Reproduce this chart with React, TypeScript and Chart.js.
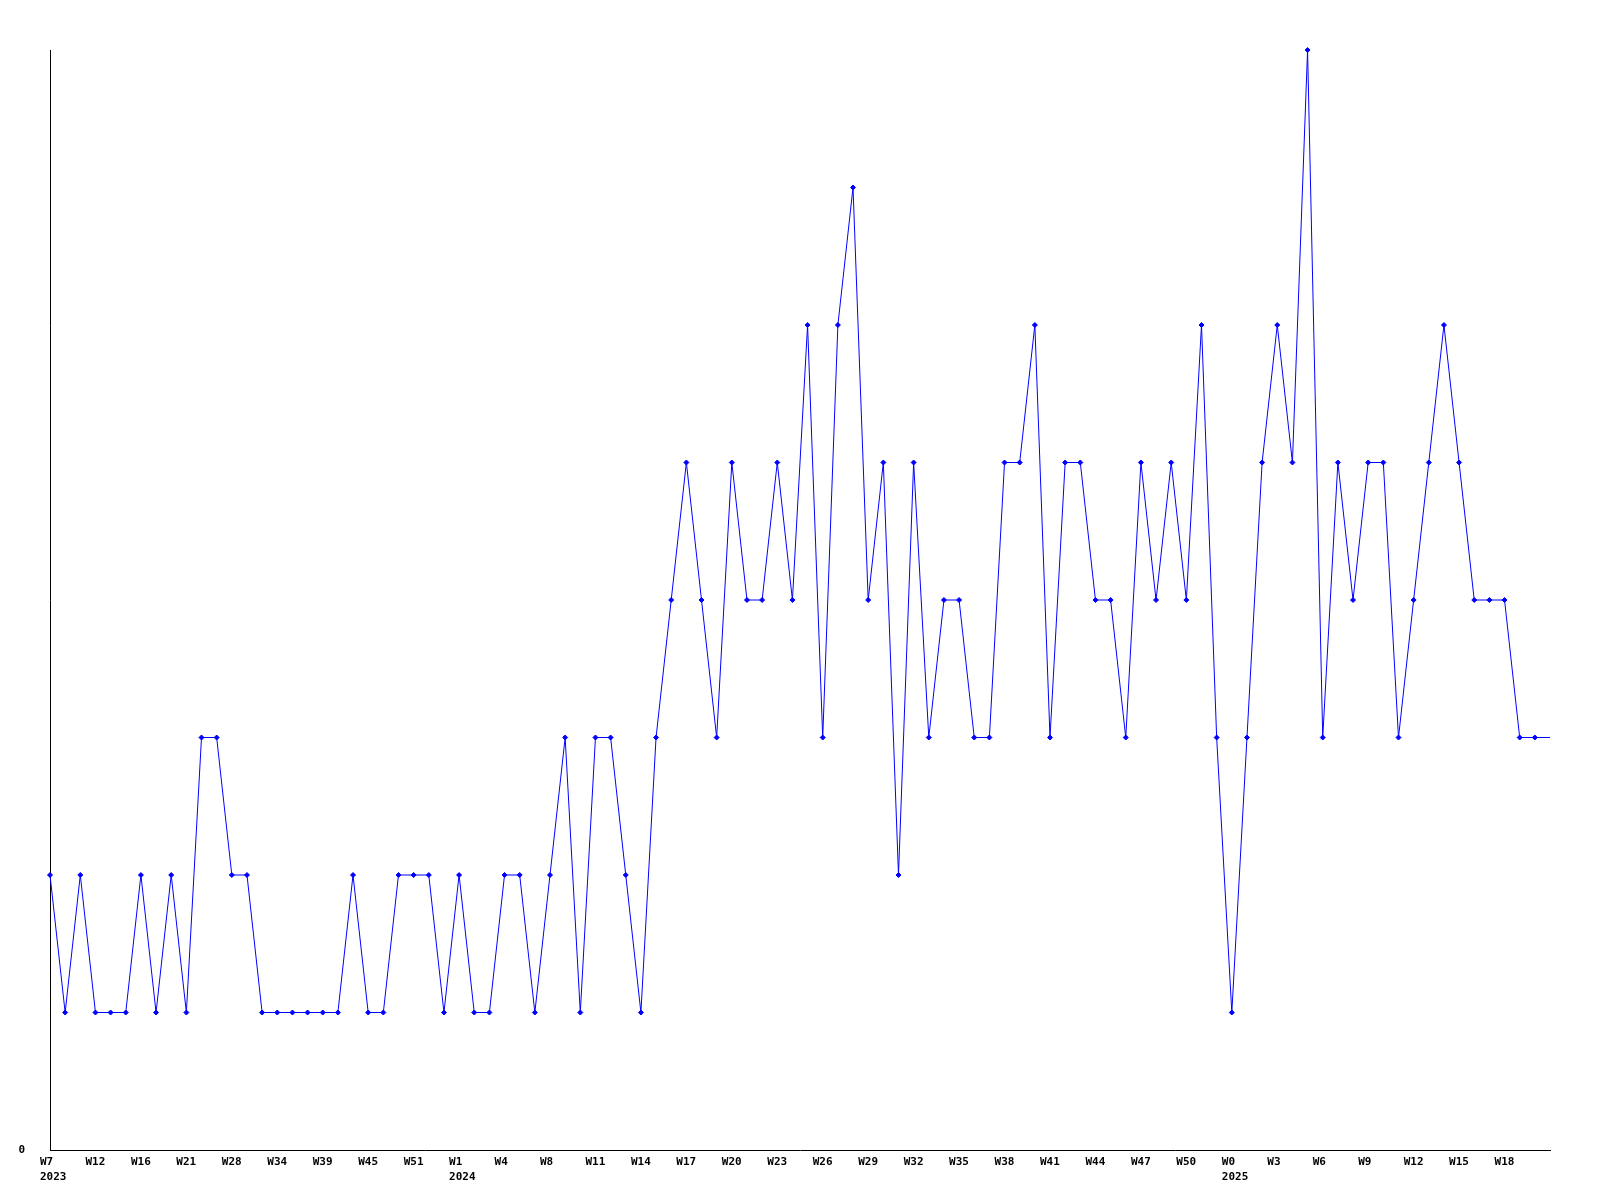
import React, { useEffect, useRef } from "react";
import { Chart, registerables } from "chart.js";

Chart.register(...registerables);

const weekTicks = [
  "W7", "W12", "W16", "W21", "W28", "W34", "W39", "W45", "W51",
  "W1", "W4", "W8", "W11", "W14", "W17", "W20", "W23", "W26", "W29",
  "W32", "W35", "W38", "W41", "W44", "W47", "W50",
  "W0", "W3", "W6", "W9", "W12", "W15", "W18",
];

const yearTicks: Record<string, string> = { "0": "2023", "9": "2024", "26": "2025" };

const values = [
  2, 1, 2, 1, 1, 1, 2, 1, 2, 1,
  3, 3, 2, 2, 1, 1, 1, 1, 1, 1,
  2, 1, 1, 2, 2, 2, 1, 2, 1, 1,
  2, 2, 1, 2, 3, 1, 3, 3, 2, 1,
  3, 4, 5, 4, 3, 5, 4, 4, 5, 4,
  6, 3, 6, 7, 4, 5, 2, 5, 3, 4,
  4, 3, 3, 5, 5, 6, 3, 5, 5, 4,
  4, 3, 5, 4, 5, 4, 6, 3, 1, 3,
  5, 6, 5, 8, 3, 5, 4, 5, 5, 3,
  4, 5, 6, 5, 4, 4, 4, 3, 3, 3,
];

const yMin = 0;
const yMax = 8;

const categories: (string | string[])[] = values.map((_, i) => {
  if (i % 3 !== 0) return "";
  const k = i / 3;
  const w = weekTicks[k] ?? "";
  const y = yearTicks[String(k)];
  return y ? [w, y] : w;
});

const FONT = { family: "'DejaVu Sans Mono', monospace", size: 11, weight: "bold" as const, lineHeight: 15 / 11 };

export default function App() {
  const ref = useRef<HTMLCanvasElement | null>(null);
  useEffect(() => {
    if (!ref.current) return;
    const chart = new Chart(ref.current, {
      type: "line",
      data: {
        labels: categories,
        datasets: [
          {
            data: values,
            borderColor: "#0000ff",
            backgroundColor: "#0000ff",
            borderWidth: 1,
            tension: 0,
            fill: false,
            clip: false,
            pointStyle: "rectRot",
            pointRadius: (ctx: any) => (ctx.dataIndex === values.length - 1 ? 0 : 2.5),
            pointBorderWidth: 1,
            pointBorderColor: "#0000ff",
            pointBackgroundColor: "#0000ff",
          },
        ],
      },
      options: {
        responsive: false,
        animation: false,
        events: [],
        layout: { padding: { top: 50, right: 50, left: 0, bottom: 0 } },
        plugins: { legend: { display: false }, tooltip: { enabled: false }, title: { display: false } },
        scales: {
          x: {
            type: "category",
            offset: false,
            grid: { display: false, drawTicks: false },
            border: { display: true, color: "#000000", width: 1 },
            ticks: {
              autoSkip: false,
              maxRotation: 0,
              minRotation: 0,
              align: "start",
              labelOffset: -10,
              padding: 5,
              color: "#000000",
              font: FONT,
            },
            afterFit: (scale: any) => {
              scale.height = 50;
              scale.paddingLeft = 0;
              scale.paddingRight = 0;
            },
          },
          y: {
            min: yMin,
            max: yMax,
            grid: { display: false, drawTicks: false },
            border: { display: true, color: "#000000", width: 1 },
            afterBuildTicks: (scale: any) => {
              scale.ticks = [{ value: yMin }];
            },
            ticks: {
              padding: 25,
              color: "#000000",
              font: FONT,
              callback: (v: any) => String(v),
            },
            afterFit: (scale: any) => {
              scale.width = 50;
              scale.paddingTop = 0;
              scale.paddingBottom = 0;
            },
          },
        },
      },
    } as any);
    return () => chart.destroy();
  }, []);
  return (
    <div style={{ position: "absolute", left: 0, top: 0, width: 1600, height: 1200, background: "#ffffff" }}>
      <canvas ref={ref} width={1600} height={1200} style={{ width: 1600, height: 1200, display: "block" }} />
    </div>
  );
}
